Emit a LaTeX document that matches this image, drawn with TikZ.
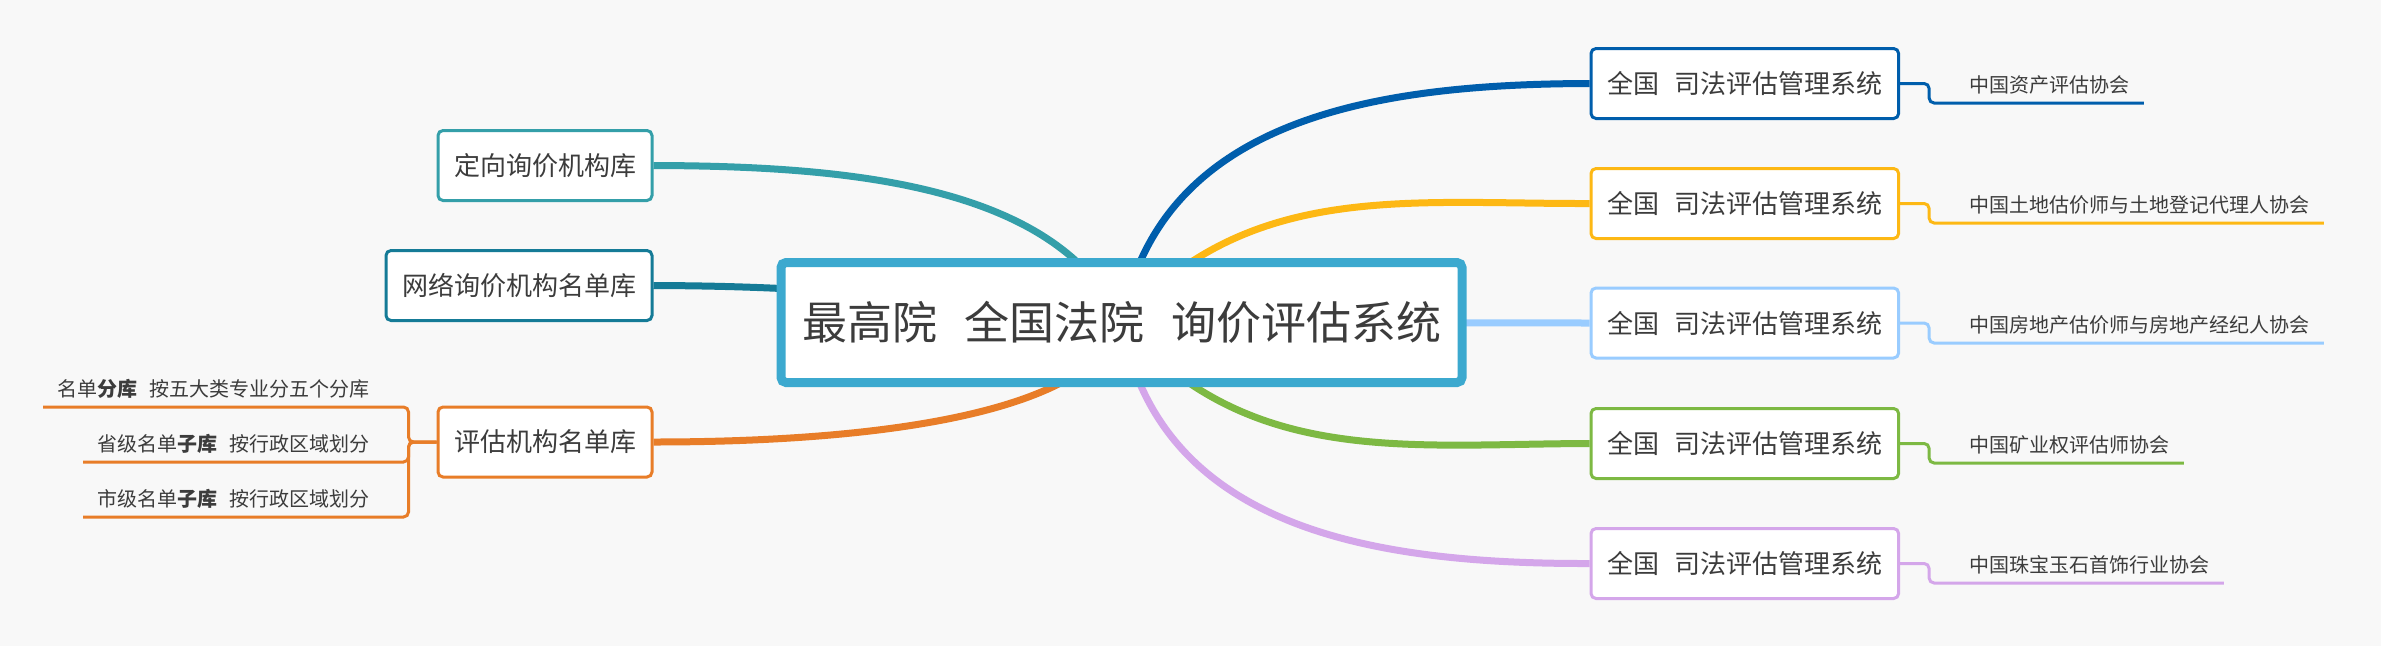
\documentclass[tikz,border=0pt]{standalone}
\usepackage{fontspec}
\setmainfont{Noto Sans CJK SC}
\usetikzlibrary{backgrounds}

\definecolor{bg}{HTML}{F8F8F8}
\definecolor{txt}{HTML}{3C3C3C}
\definecolor{rootc}{HTML}{3CA9CF}
\definecolor{dirc}{HTML}{349FA9}
\definecolor{netc}{HTML}{157B97}
\definecolor{evalc}{HTML}{E87D28}
\definecolor{sysa}{HTML}{005EAC}
\definecolor{sysb}{HTML}{FDB814}
\definecolor{sysc}{HTML}{99CCFF}
\definecolor{sysd}{HTML}{7DB943}
\definecolor{syse}{HTML}{D4A6EA}

\newcommand{\gapsp}{\hspace{0.6em}}

\tikzset{
  rootbox/.style={draw=rootc, fill=white, line width=4.5pt, rounded corners=2.5pt,
    inner xsep=10.5pt, minimum height=60pt, text=txt,
    font=\fontsize{22.5pt}{26pt}\selectfont},
  box/.style={draw, fill=white, line width=1.5pt, rounded corners=2.5pt,
    inner xsep=8pt, minimum height=35pt, text=txt,
    font=\fontsize{13pt}{15pt}\selectfont},
  leaf/.style={inner xsep=7pt, inner ysep=4pt, text=txt,
    font=\fontsize{10pt}{12pt}\selectfont},
  branch/.style={line width=3.5pt},
  twig/.style={line width=1.5pt, rounded corners=2.5pt},
}

\begin{document}
\begin{tikzpicture}[x=0.5pt,y=-0.5pt]
  \useasboundingbox (0,0) rectangle (2381,649);

  % centre
  \node[rootbox] (root) at (1121.5,322.5) {最高院\gapsp 全国法院\gapsp 询价评估系统};

  % left side
  \node[box, draw=dirc, anchor=east] (dir) at (653.5,165.5) {定向询价机构库};
  \node[box, draw=netc, anchor=east] (net) at (653.5,285.5) {网络询价机构名单库};
  \node[box, draw=evalc, anchor=east] (eval) at (653.5,442) {评估机构名单库};

  \node[leaf, anchor=south east] (lib) at (384,407) {名单\textbf{分库}\gapsp 按五大类专业分五个分库};
  \node[leaf, anchor=south east] (prov) at (384,462) {省级名单\textbf{子库}\gapsp 按行政区域划分};
  \node[leaf, anchor=south east] (city) at (384,517) {市级名单\textbf{子库}\gapsp 按行政区域划分};

  \draw[twig, evalc] (eval.west) -- ++(-28,0) |- (lib.south west);
  \draw[twig, evalc] (eval.west) -- ++(-28,0) |- (prov.south west);
  \draw[twig, evalc] (eval.west) -- ++(-28,0) |- (city.south west);

  % right side
  \node[box, draw=sysa, anchor=west] (sa) at (1589.5,83.5) {全国\gapsp 司法评估管理系统};
  \node[box, draw=sysb, anchor=west] (sb) at (1589.5,203.5) {全国\gapsp 司法评估管理系统};
  \node[box, draw=sysc, anchor=west] (sc) at (1589.5,323) {全国\gapsp 司法评估管理系统};
  \node[box, draw=sysd, anchor=west] (sd) at (1589.5,443.5) {全国\gapsp 司法评估管理系统};
  \node[box, draw=syse, anchor=west] (se) at (1589.5,563.5) {全国\gapsp 司法评估管理系统};

  \node[leaf, anchor=south west] (asa) at (1955,103) {中国资产评估协会};
  \node[leaf, anchor=south west] (asb) at (1955,223) {中国土地估价师与土地登记代理人协会};
  \node[leaf, anchor=south west] (asc) at (1955,343) {中国房地产估价师与房地产经纪人协会};
  \node[leaf, anchor=south west] (asd) at (1955,463) {中国矿业权评估师协会};
  \node[leaf, anchor=south west] (ase) at (1955,583) {中国珠宝玉石首饰行业协会};

  \draw[twig, sysa] (sa.east) -- ++(29,0) |- (asa.south east);
  \draw[twig, sysb] (sb.east) -- ++(29,0) |- (asb.south east);
  \draw[twig, sysc] (sc.east) -- ++(29,0) |- (asc.south east);
  \draw[twig, sysd] (sd.east) -- ++(29,0) |- (asd.south east);
  \draw[twig, syse] (se.east) -- ++(29,0) |- (ase.south east);

  % branches behind the boxes
  \begin{pgfonlayer}{background}
    \fill[bg] (0,0) rectangle (2381,646);
    \draw[branch, dirc] (root.center) .. controls (1058,185) and (850,166) .. (dir.east);
    \draw[branch, netc] (root.center) .. controls (922,296) and (809,286) .. (net.east);
    \draw[branch, evalc] (root.center) .. controls (1088,420) and (850,442) .. (eval.east);
    \draw[branch, sysa] (root.center) .. controls (1160,120) and (1370,84) .. (sa.west);
    \draw[branch, sysb] (root.center) .. controls (1248,181) and (1405,204) .. (sb.west);
    \draw[branch, sysc] (root.center) -- (sc.west);
    \draw[branch, sysd] (root.center) .. controls (1248,467) and (1405,444) .. (sd.west);
    \draw[branch, syse] (root.center) .. controls (1160,528) and (1370,564) .. (se.west);
  \end{pgfonlayer}
\end{tikzpicture}
\end{document}
